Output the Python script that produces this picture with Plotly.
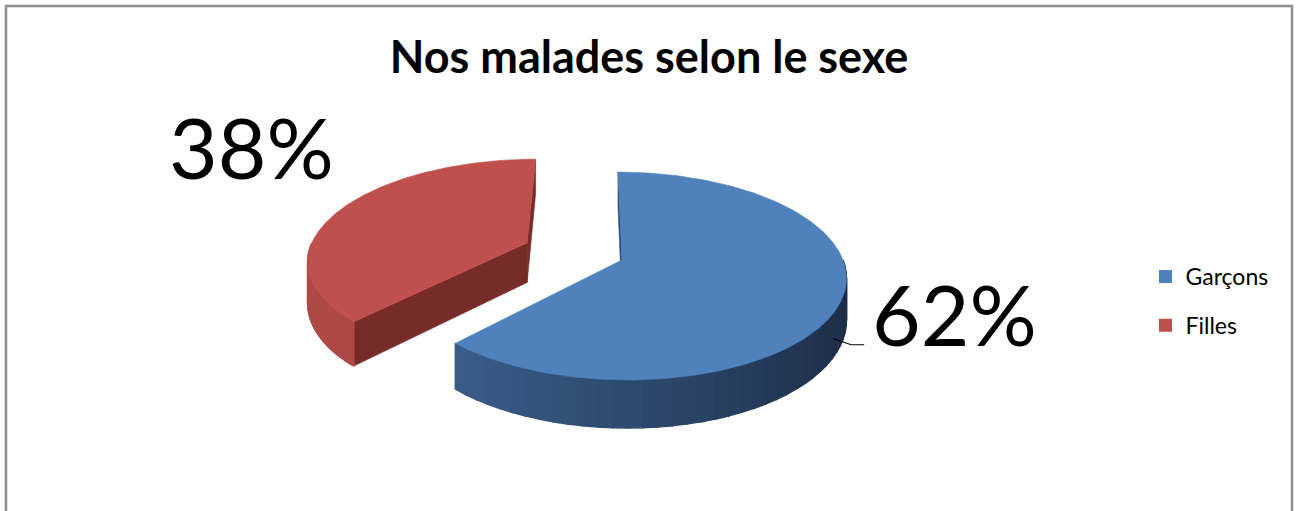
import numpy as np
import plotly.graph_objects as go

# ---- data ----
categories = ["Garçons", "Filles"]
values = [62, 38]
top_colors = ["#4F81BD", "#C0504D"]
side_light = ["#3F6697", "#B04A47"]
side_dark = ["#1D2D47", "#A3413E"]
cut_colors = ["#2C4B77", "#772C2A"]
explode = [0.0, 0.47]
title = "Nos malades selon le sexe"

# ---- 3D pie geometry (page pixels) ----
W, H = 1301, 511
CX, CY = 622.0, 260.0      # pie centre
RX, RY = 221.0, 101.5      # radii of the top face
K = 0.154                  # perspective strength
VX = 592.0                 # horizontal vanishing point
THICK = 40.6               # slab thickness

def proj(X, Z, h=0.0):
    X = np.asarray(X, dtype=float)
    Z = np.asarray(Z, dtype=float)
    f = 1.0 / (1.0 + K * Z)
    x = VX + (CX - VX + RX * X) * f
    y = CY - RY * Z * f + h * f
    return x, y

def hex_rgb(c):
    c = c.lstrip("#")
    return np.array([int(c[i:i + 2], 16) for i in (0, 2, 4)], dtype=float)

def mix(c1, c2, t):
    a, b = hex_rgb(c1), hex_rgb(c2)
    r = a + (b - a) * t
    return "rgb(%d,%d,%d)" % tuple(np.round(r).astype(int))

total = float(sum(values))
fracs = [v / total for v in values]
pcts = [round(f * 100) for f in fracs]

fig = go.Figure()

def poly(xs, ys, color, lw=0.6):
    fig.add_trace(go.Scatter(
        x=list(xs) + [xs[0]], y=list(ys) + [ys[0]],
        mode="lines", fill="toself", fillcolor=color,
        line=dict(color=color, width=lw),
        hoverinfo="skip", showlegend=False,
    ))

# slice angle spans (clockwise from 12 o'clock), in degrees
spans = []
cum = 0.0
for fr in fracs:
    a0 = 90.0 - 360.0 * cum
    a1 = 90.0 - 360.0 * (cum + fr)
    spans.append((a0, a1))
    cum += fr

# draw back slice (Filles) first, then the front slice (Garçons)
order = [1, 0]
for i in order:
    a0, a1 = spans[i]
    mid = np.radians((a0 + a1) / 2.0)
    ox, oz = explode[i] * np.cos(mid), explode[i] * np.sin(mid)

    # radial cut faces that turn toward the viewer
    for a, nrm in ((a0, a0 + 90.0), (a1, a1 - 90.0)):
        r, n = np.radians(a), np.radians(nrm)
        sn, cn = np.sin(n), np.cos(n)
        fx, _ = proj(ox + 0.5 * np.cos(r), oz + 0.5 * np.sin(r))
        if abs(sn) > 1e-6:
            visible = sn < 0
        else:
            visible = (float(fx) - VX) * cn < 0
        if not visible:
            continue
        Xs = [ox, ox + np.cos(r), ox + np.cos(r), ox]
        Zs = [oz, oz + np.sin(r), oz + np.sin(r), oz]
        hs = [0, 0, THICK, THICK]
        xs, ys = [], []
        for X, Z, hh in zip(Xs, Zs, hs):
            px, py = proj(X, Z, hh)
            xs.append(float(px)); ys.append(float(py))
        poly(xs, ys, cut_colors[i])

    # outer curved side, only the part facing the viewer (sin < 0)
    angs = np.linspace(a1, a0, 400)
    front = angs[np.sin(np.radians(angs)) < 0]
    if len(front) > 1:
        n_strips = 40
        edges = np.linspace(front.min(), front.max(), n_strips + 1)
        for s in range(n_strips):
            tt = np.radians(np.linspace(edges[s], edges[s + 1], 4))
            X = ox + np.cos(tt)
            Z = oz + np.sin(tt)
            xt, yt = proj(X, Z, 0.0)
            xb, yb = proj(X, Z, THICK)
            # lighter toward the left, darker toward the right
            t = (np.cos(np.radians((edges[s] + edges[s + 1]) / 2)) + 1) / 2
            poly(np.r_[xt, xb[::-1]], np.r_[yt, yb[::-1]],
                 mix(side_light[i], side_dark[i], t), lw=1.6)

    # top face
    tt = np.radians(np.linspace(a0, a1, 300))
    X = np.r_[ox, ox + np.cos(tt)]
    Z = np.r_[oz, oz + np.sin(tt)]
    xt, yt = proj(X, Z, 0.0)
    poly(xt, yt, top_colors[i])

# legend entries
for i, cat in enumerate(categories):
    fig.add_trace(go.Scatter(
        x=[None], y=[None], mode="markers", name=cat,
        marker=dict(symbol="square", size=13, color=top_colors[i]),
        legendgroup=cat, showlegend=True,
    ))

# data labels
# Garçons: to the right with a leader line
mid0 = np.radians(sum(spans[0]) / 2.0 - 6)
lx0, ly0 = proj(np.cos(mid0), np.sin(mid0), THICK * 0.62)
fig.add_trace(go.Scatter(
    x=[float(lx0) - 2, float(lx0) + 16, float(lx0) + 29],
    y=[float(ly0) + 1, float(ly0) + 7, float(ly0) + 7],
    mode="lines", line=dict(color="black", width=1.2),
    hoverinfo="skip", showlegend=False,
))
label_font = dict(family="Lato, Open Sans, sans-serif", size=84, color="black")
fig.add_annotation(x=float(lx0) + 35, y=float(ly0) - 24,
                   text="%d%%" % pcts[0], showarrow=False,
                   xanchor="left", yanchor="middle", font=label_font)
fig.add_annotation(x=251, y=146, text="%d%%" % pcts[1], showarrow=False,
                   xanchor="center", yanchor="middle", font=label_font)

# chart frame
fig.add_shape(type="rect", x0=6, y0=6, x1=1292, y1=530,
              line=dict(color="#8E8E8E", width=2.5), layer="below")

fig.update_layout(
    width=W, height=H,
    margin=dict(l=0, r=0, t=0, b=0),
    paper_bgcolor="white", plot_bgcolor="white",
    title=dict(text="<b>%s</b>" % title, x=649 / W, xanchor="center",
               y=1 - 57 / H, yanchor="middle",
               font=dict(family="Lato, Open Sans, sans-serif", size=45, color="black")),
    xaxis=dict(range=[0, W], visible=False, fixedrange=True),
    yaxis=dict(range=[H, 0], visible=False, fixedrange=True),
    legend=dict(x=1145.5 / W, y=1 - 255 / H, xanchor="left", yanchor="top",
                font=dict(family="Lato, Open Sans, sans-serif", size=23, color="black"),
                tracegroupgap=16, bgcolor="rgba(0,0,0,0)",
                itemwidth=30),
    showlegend=True,
)

fig.write_html("out.html")
